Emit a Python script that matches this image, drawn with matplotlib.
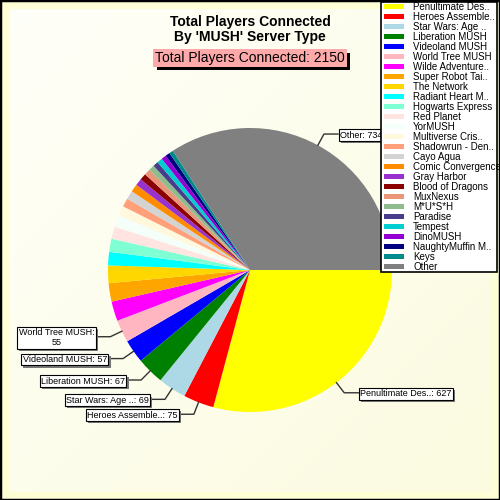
import numpy as np
import matplotlib.pyplot as plt
import matplotlib.patheffects as pe
from matplotlib.patches import Rectangle

# data
names = ["Penultimate Des..", "Heroes Assemble..", "Star Wars: Age ..", "Liberation MUSH",
         "Videoland MUSH", "World Tree MUSH", "Wilde Adventure..", "Super Robot Tai..",
         "The Network", "Radiant Heart M..", "Hogwarts Express", "Red Planet", "YorMUSH",
         "Multiverse Cris..", "Shadowrun - Den..", "Cayo Agua", "Comic Convergence",
         "Gray Harbor", "Blood of Dragons", "MuxNexus", "M*U*S*H", "Paradise", "Tempest",
         "DinoMUSH", "NaughtyMuffin M..", "Keys", "Other"]
players = [627, 75, 69, 67, 57, 55, 48, 45, 43, 33, 32, 30, 29, 24, 21, 21, 19, 17, 16,
           15, 14, 13, 13, 12, 11, 10, 734]
colors = ["yellow", "red", "lightblue", "green", "blue", "lightpink", "magenta", "orange",
          "gold", "cyan", "aquamarine", "mistyrose", "mintcream", "cornsilk", "lightsalmon",
          "lightgray", "darkorange", "darkorchid", "darkred", "darksalmon", "darkseagreen",
          "darkslateblue", "darkturquoise", "darkviolet", "navy", "darkcyan", "gray"]
labelled = [0, 1, 2, 3, 4, 5, 26]
total = sum(players)

plt.rcParams['font.family'] = ['Liberation Sans', 'DejaVu Sans']

fig = plt.figure(figsize=(5, 5), dpi=100)
ax = fig.add_axes([0, 0, 1, 1])

# background: yellow frame + soft gradient
ax.add_patch(Rectangle((0, 0), 500, 500, fc='#FFFFD6', ec='black', lw=2.5, zorder=0))
gx, gy = np.meshgrid(np.linspace(0, 1, 200), np.linspace(0, 1, 200))
g = (gx + gy) / 2
c0 = np.array([1.0, 1.0, 0.975])
c1 = np.array([0.985, 0.985, 0.88])
img = c0 + (c1 - c0) * g[..., None]
ax.imshow(img, extent=[9, 492, 8, 491], origin='upper', zorder=0.5, aspect='auto')

cx, cy, r = 250, 230, 142
wedges, _ = ax.pie(players, colors=colors, startangle=0, counterclock=False,
                   center=(cx, cy), radius=r, wedgeprops=dict(linewidth=0))
for w in wedges:
    w.set_zorder(2)

# labels with elbow leader lines
for i in labelled:
    w = wedges[i]
    ang = np.deg2rad((w.theta1 + w.theta2) / 2)
    x0, y0 = cx + r * np.cos(ang), cy + r * np.sin(ang)
    x1, y1 = cx + 1.09 * r * np.cos(ang), cy + 1.09 * r * np.sin(ang)
    side = 1 if np.cos(ang) >= 0 else -1
    x2 = x1 + side * 14
    ax.plot([x0, x1, x2], [y0, y1, y1], color='#333333', lw=1, zorder=3)
    if names[i] == "World Tree MUSH":
        txt = f"{names[i]}:\n{players[i]}"
        ma = 'center'
    else:
        txt = f"{names[i]}: {players[i]}"
        ma = 'left'
    ha = 'left' if side > 0 else 'right'
    t = ax.text(x2 + side * 2, y1 - 1, txt, ha=ha, va='center', fontsize=6.5,
                multialignment=ma, zorder=4,
                bbox=dict(boxstyle='square,pad=0.15', fc='white', ec='black', lw=0.8))
    t.get_bbox_patch().set_path_effects(
        [pe.SimplePatchShadow(offset=(1.5, -1.5), shadow_rgbFace='#777777', alpha=1),
         pe.Normal()])

# titles
ax.text(250, 485, "Total Players Connected\nBy 'MUSH' Server Type", ha='center', va='top',
        fontsize=10, fontweight='bold', linespacing=1.1, zorder=5)
sub = f"Total Players Connected: {total}"
t = ax.text(250, 442, sub, ha='center', va='center', fontsize=10, zorder=6,
            bbox=dict(boxstyle='square,pad=0.12', fc='#FFAAAA', ec='none'))
t.get_bbox_patch().set_path_effects(
    [pe.SimplePatchShadow(offset=(2.5, -2.5), shadow_rgbFace='black', alpha=1), pe.Normal()])

# legend box drawn by hand
ax.add_patch(Rectangle((381, 228), 116, 270, fc='white', ec='black', lw=1.2, zorder=7))
for k, (n, c) in enumerate(zip(names, colors)):
    yy = 493.5 - k * 10
    ax.add_patch(Rectangle((384, yy - 2.7), 20, 5.4, fc=c, ec='none', zorder=8))
    ax.text(413, yy, n, ha='left', va='center', fontsize=7, zorder=8)

ax.set_xlim(0, 500)
ax.set_ylim(0, 500)
ax.set_aspect('auto')
ax.axis('off')

fig.savefig('out.png', dpi=100)
